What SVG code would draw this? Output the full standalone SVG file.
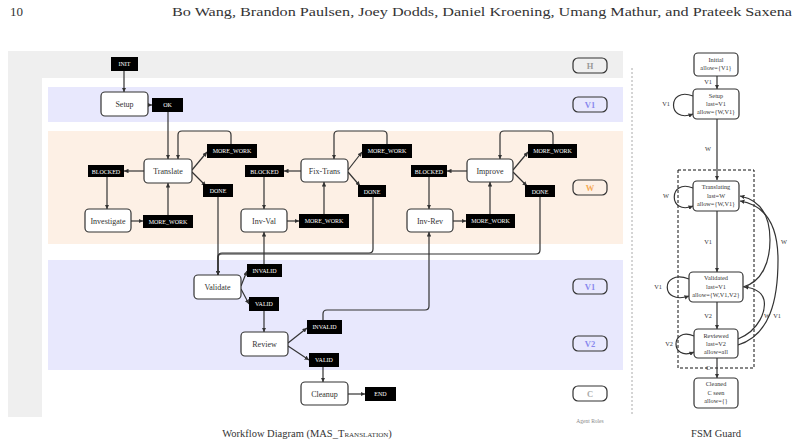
<svg xmlns="http://www.w3.org/2000/svg" width="801" height="448" viewBox="0 0 801 448">
<style>
text{font-family:"Liberation Serif","DejaVu Serif",serif;fill:#333}
.node rect{fill:#fff;stroke:#333;stroke-width:1.2}
.lab rect{fill:#000}
.lab text{fill:#fff;font-size:6px;text-anchor:middle}
.nt{font-size:8px;text-anchor:middle}
.ft{font-size:6.3px;text-anchor:middle}
.el{font-size:6.3px;text-anchor:middle}
.badge rect{fill:none;stroke:#333;stroke-width:1.2}
.badge text{font-size:8.5px;font-weight:bold;text-anchor:middle}
.c{fill:none;stroke:#333;stroke-width:1.2}
</style>
<defs>
<marker id="a" viewBox="0 0 6 6" refX="6" refY="3" markerWidth="4.5" markerHeight="4.5" markerUnits="userSpaceOnUse" orient="auto"><path d="M0,0L6,3L0,6z" fill="#333"/></marker>
</defs>
<text x="10" y="16" font-size="13">10</text>
<text x="792" y="16" font-size="13.5" text-anchor="end" textLength="620" lengthAdjust="spacingAndGlyphs">Bo Wang, Brandon Paulsen, Joey Dodds, Daniel Kroening, Umang Mathur, and Prateek Saxena</text>
<g id="background">
<rect x="8" y="51" width="615" height="27" fill="#efefef"/>
<rect x="8" y="51" width="34" height="366" fill="#efefef"/>
<rect x="48" y="87" width="575" height="35" fill="#e8e8fd"/>
<rect x="48" y="131" width="575" height="113" fill="#fdf0e5"/>
<rect x="48" y="260" width="575" height="110" fill="#e8e8fd"/>
<line x1="632" y1="68" x2="632" y2="414" stroke="#aaa" stroke-width="1" stroke-dasharray="2,2"/>
</g>
<g id="badges">
<g class="badge" id="badge-H"><rect x="573" y="58" width="34" height="15" rx="5"/><text x="590" y="69" style="fill:#999">H</text></g>
<g class="badge" id="badge-V1a"><rect x="573" y="97" width="34" height="15" rx="5"/><text x="590" y="108" style="fill:#8888ee">V1</text></g>
<g class="badge" id="badge-W"><rect x="573" y="180" width="34" height="15" rx="5"/><text x="590" y="191" style="fill:#f5aa55">W</text></g>
<g class="badge" id="badge-V1b"><rect x="573" y="279" width="34" height="15" rx="5"/><text x="590" y="290" style="fill:#8888ee">V1</text></g>
<g class="badge" id="badge-V2"><rect x="573" y="336" width="34" height="15" rx="5"/><text x="590" y="347" style="fill:#8888ee">V2</text></g>
<g class="badge" id="badge-C"><rect x="573" y="386" width="34" height="15" rx="5"/><text x="590" y="397" style="fill:#aaa">C</text></g>
<text x="590" y="423" font-size="5.5" text-anchor="middle" style="fill:#888">Agent Roles</text>
</g>
<g id="connectors">
<path class="c" d="M124,71V92" marker-end="url(#a)"/>
<path class="c" d="M148,105H152" marker-end="url(#a)"/>
<path class="c" d="M168,112V159" marker-end="url(#a)"/>
<path class="c" d="M231,144V135Q231,131 227,131H182Q178,131 178,135V159" marker-end="url(#a)"/>
<path class="c" d="M192,170L207,152" marker-end="url(#a)"/>
<path class="c" d="M192,172L206,186" marker-end="url(#a)"/>
<path class="c" d="M144,171H124" marker-end="url(#a)"/>
<path class="c" d="M107,177V209" marker-end="url(#a)"/>
<path class="c" d="M131,221H143" marker-end="url(#a)"/>
<path class="c" d="M168,216V183" marker-end="url(#a)"/>
<path class="c" d="M387,144V135Q387,131 383,131H338Q334,131 334,135V159" marker-end="url(#a)"/>
<path class="c" d="M348,170L362,152" marker-end="url(#a)"/>
<path class="c" d="M348,172L360,186" marker-end="url(#a)"/>
<path class="c" d="M301,171H284" marker-end="url(#a)"/>
<path class="c" d="M264,177V209" marker-end="url(#a)"/>
<path class="c" d="M287,221H299" marker-end="url(#a)"/>
<path class="c" d="M324,214V182" marker-end="url(#a)"/>
<path class="c" d="M553,144V135Q553,131 549,131H504Q500,131 500,135V159" marker-end="url(#a)"/>
<path class="c" d="M513,170L528,152" marker-end="url(#a)"/>
<path class="c" d="M513,172L527,186" marker-end="url(#a)"/>
<path class="c" d="M467,171H447" marker-end="url(#a)"/>
<path class="c" d="M429,176V209" marker-end="url(#a)"/>
<path class="c" d="M453,221H466" marker-end="url(#a)"/>
<path class="c" d="M490,214V182" marker-end="url(#a)"/>
<path class="c" d="M218,197V275" marker-end="url(#a)"/>
<path class="c" d="M373,197V249Q373,253 369,253H222Q218,253 218,257V275" marker-end="url(#a)"/>
<path class="c" d="M540,197V250Q540,254 536,254H222Q218,254 218,258V275" marker-end="url(#a)"/>
<path class="c" d="M264,264V232" marker-end="url(#a)"/>
<path class="c" d="M241,286L247,271" marker-end="url(#a)"/>
<path class="c" d="M241,289L249,304" marker-end="url(#a)"/>
<path class="c" d="M264,311V332" marker-end="url(#a)"/>
<path class="c" d="M288,343L307,328" marker-end="url(#a)"/>
<path class="c" d="M288,346L309,360" marker-end="url(#a)"/>
<path class="c" d="M323,320V314Q323,310 327,310H425Q429,310 429,306V232" marker-end="url(#a)"/>
<path class="c" d="M323,367V382" marker-end="url(#a)"/>
<path class="c" d="M348,394H365" marker-end="url(#a)"/>
</g>
<g id="nodes">
<g class="lab" id="INIT"><rect x="111" y="57" width="27" height="14"/><text x="124.5" y="66">INIT</text></g>
<g class="node" id="Setup"><rect x="101" y="92" width="47" height="24" rx="4"/><text class="nt" x="124.5" y="107">Setup</text></g>
<g class="lab" id="OK"><rect x="152" y="98" width="31" height="14"/><text x="167.5" y="107">OK</text></g>
<g class="node" id="Translate"><rect x="144" y="159" width="48" height="24" rx="4"/><text class="nt" x="168" y="174">Translate</text></g>
<g class="lab" id="MW1"><rect x="207" y="144" width="50" height="14"/><text x="232" y="153">MORE_WORK</text></g>
<g class="lab" id="DONE1"><rect x="203" y="184" width="30" height="13"/><text x="218" y="193">DONE</text></g>
<g class="lab" id="BLOCKED1"><rect x="88" y="165" width="36" height="12"/><text x="106" y="173.5">BLOCKED</text></g>
<g class="node" id="Investigate"><rect x="85" y="209" width="46" height="23" rx="4"/><text class="nt" x="108" y="223.5">Investigate</text></g>
<g class="lab" id="MW2"><rect x="143" y="215" width="50" height="13"/><text x="168" y="224">MORE_WORK</text></g>
<g class="node" id="Fix-Trans"><rect x="301" y="159" width="47" height="23" rx="4"/><text class="nt" x="324.5" y="173.5">Fix-Trans</text></g>
<g class="lab" id="MW3"><rect x="362" y="144" width="50" height="14"/><text x="387" y="153">MORE_WORK</text></g>
<g class="lab" id="DONE3"><rect x="358" y="185" width="28" height="12"/><text x="372" y="193.5">DONE</text></g>
<g class="lab" id="BLOCKED2"><rect x="245" y="165" width="39" height="12"/><text x="264.5" y="173.5">BLOCKED</text></g>
<g class="node" id="Inv-Val"><rect x="241" y="209" width="46" height="23" rx="4"/><text class="nt" x="264" y="223.5">Inv-Val</text></g>
<g class="lab" id="MW4"><rect x="299" y="214" width="50" height="14"/><text x="324" y="223">MORE_WORK</text></g>
<g class="node" id="Improve"><rect x="467" y="159" width="46" height="23" rx="4"/><text class="nt" x="490" y="173.5">Improve</text></g>
<g class="lab" id="MW6"><rect x="528" y="144" width="49" height="14"/><text x="552.5" y="153">MORE_WORK</text></g>
<g class="lab" id="DONE6"><rect x="525" y="185" width="30" height="12"/><text x="540" y="193.5">DONE</text></g>
<g class="lab" id="BLOCKED3"><rect x="411" y="165" width="36" height="12"/><text x="429" y="173.5">BLOCKED</text></g>
<g class="node" id="Inv-Rev"><rect x="407" y="209" width="46" height="23" rx="4"/><text class="nt" x="430" y="223.5">Inv-Rev</text></g>
<g class="lab" id="MW5"><rect x="466" y="214" width="49" height="14"/><text x="490.5" y="223">MORE_WORK</text></g>
<g class="node" id="Validate"><rect x="194" y="275" width="47" height="24" rx="4"/><text class="nt" x="217.5" y="290">Validate</text></g>
<g class="lab" id="INVALID1"><rect x="247" y="264" width="35" height="13"/><text x="264.5" y="273">INVALID</text></g>
<g class="lab" id="VALID1"><rect x="249" y="297" width="30" height="14"/><text x="264" y="306">VALID</text></g>
<g class="node" id="Review"><rect x="241" y="332" width="47" height="24" rx="4"/><text class="nt" x="264.5" y="347">Review</text></g>
<g class="lab" id="INVALID2"><rect x="307" y="320" width="35" height="14"/><text x="324.5" y="329">INVALID</text></g>
<g class="lab" id="VALID2"><rect x="309" y="353" width="30" height="14"/><text x="324" y="362">VALID</text></g>
<g class="node" id="Cleanup"><rect x="301" y="382" width="47" height="23" rx="4"/><text class="nt" x="324.5" y="396.5">Cleanup</text></g>
<g class="lab" id="END"><rect x="365" y="387" width="31" height="14"/><text x="380.5" y="396">END</text></g>
</g>
<g id="fsm-connectors">
<path class="c" d="M717,76V89" marker-end="url(#a)"/>
<text class="el" x="708" y="84">V1</text>
<path class="c" d="M693,96C667,86 667,124 693,114" marker-end="url(#a)"/>
<text class="el" x="666" y="106">V1</text>
<path class="c" d="M717,119V180" marker-end="url(#a)"/>
<text class="el" x="708" y="151">W</text>
<rect x="678" y="170" width="76" height="198" fill="none" stroke="#111" stroke-width="1" stroke-dasharray="3,2"/>
<path class="c" d="M693,188C668,178 668,216 693,206" marker-end="url(#a)"/>
<text class="el" x="666" y="198">W</text>
<path class="c" d="M717,211V272" marker-end="url(#a)"/>
<text class="el" x="708" y="244">V1</text>
<path class="c" d="M689,279C660,268 660,306 689,296" marker-end="url(#a)"/>
<text class="el" x="658" y="289">V1</text>
<path class="c" d="M717,302V329" marker-end="url(#a)"/>
<text class="el" x="708" y="318">V2</text>
<path class="c" d="M694,336C670,326 670,362 694,352" marker-end="url(#a)"/>
<text class="el" x="669" y="346">V2</text>
<path class="c" d="M743,287C762,282 770,262 770,240C770,215 760,200 740,196" marker-end="url(#a)"/>
<path class="c" d="M738,345C770,335 778,300 778,260C778,225 765,205 740,201" marker-end="url(#a)"/>
<path class="c" d="M738,339C760,330 766,310 764,300C762,292 755,288 744,287" marker-end="url(#a)"/>
<text class="el" x="784" y="244">W</text>
<text class="el" x="767" y="318">W</text>
<text class="el" x="777" y="318">V1</text>
<path class="c" d="M717,358V378" marker-end="url(#a)"/>
<text class="el" x="708" y="370">C</text>
</g>
<g id="fsm-nodes">
<g class="node" id="f-initial"><rect x="694" y="53" width="44" height="23" rx="4"/><text class="ft" x="716" y="62">Initial</text><text class="ft" x="716" y="70">allow={V1}</text></g>
<g class="node" id="f-setup"><rect x="693" y="89" width="46" height="30" rx="4"/><text class="ft" x="716" y="98">Setup</text><text class="ft" x="716" y="106">last=V1</text><text class="ft" x="716" y="114">allow={W,V1}</text></g>
<g class="node" id="f-translating"><rect x="693" y="181" width="46" height="30" rx="4"/><text class="ft" x="716" y="189">Translating</text><text class="ft" x="716" y="198">last=W</text><text class="ft" x="716" y="206">allow={W,V1}</text></g>
<g class="node" id="f-validated"><rect x="689" y="272" width="54" height="30" rx="4"/><text class="ft" x="716" y="280">Validated</text><text class="ft" x="716" y="289">last=V1</text><text class="ft" x="716" y="297">allow={W,V1,V2}</text></g>
<g class="node" id="f-reviewed"><rect x="694" y="329" width="44" height="29" rx="4"/><text class="ft" x="716" y="338">Reviewed</text><text class="ft" x="716" y="346">last=V2</text><text class="ft" x="716" y="354">allow=all</text></g>
<g class="node" id="f-cleaned"><rect x="694" y="378" width="44" height="30" rx="4"/><text class="ft" x="716" y="386">Cleaned</text><text class="ft" x="716" y="395">C seen</text><text class="ft" x="716" y="403">allow={}</text></g>
</g>
<text x="307" y="437" font-size="10.5" text-anchor="middle">Workflow Diagram (MAS_<tspan font-variant="small-caps">Translation</tspan>)</text>
<text x="716" y="437" font-size="10.5" text-anchor="middle">FSM Guard</text>
</svg>
